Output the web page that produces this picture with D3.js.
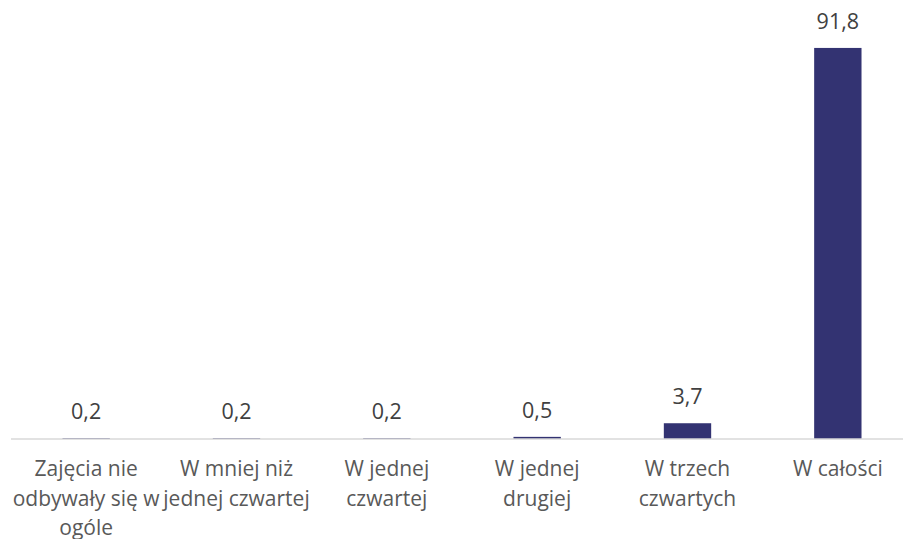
<!DOCTYPE html>
<html>
<head>
<meta charset="utf-8">
<script src="https://cdn.jsdelivr.net/npm/d3@7"></script>
<style>
    body { margin: 0; background: #fff; }
    svg { display: block; font-family: "Open Sans", sans-serif; }
</style>
</head>
<body>
<div id="chart"></div>
<script>
const categories = [
    "Zajęcia nie odbywały się w ogóle",
    "W mniej niż jednej czwartej",
    "W jednej czwartej",
    "W jednej drugiej",
    "W trzech czwartych",
    "W całości"
];
// wrapped lines as they appear under the axis
const categoryLines = [
    ["Zajęcia nie", "odbywały się w", "ogóle"],
    ["W mniej niż", "jednej czwartej"],
    ["W jednej", "czwartej"],
    ["W jednej", "drugiej"],
    ["W trzech", "czwartych"],
    ["W całości"]
];
const values = [0.2, 0.2, 0.2, 0.5, 3.7, 91.8];

const width = 903, height = 539;
const axisY = 439;

const svg = d3.select("#chart").append("svg")
    .attr("width", width)
    .attr("height", height);

const x = d3.scaleBand()
    .domain(categories)
    .range([11, 913])
    .paddingInner(0.685)
    .paddingOuter(0.3425);

const y = d3.scaleLinear()
    .domain([0, 100])
    .range([axisY, 13]);

svg.selectAll(".bar")
    .data(values)
    .enter().append("rect")
    .attr("class", "bar")
    .attr("x", (d, i) => x(categories[i]))
    .attr("y", d => y(d))
    .attr("width", x.bandwidth())
    .attr("height", d => axisY - y(d))
    .attr("fill", "#333372");

// category axis
const xAxisGroup = svg.append("g")
    .attr("transform", `translate(0,${axisY})`)
    .call(d3.axisBottom(x).tickFormat(() => "").tickSize(0));

xAxisGroup.select(".domain")
    .attr("d", `M11,0H${width}`)
    .attr("stroke", "#d9d9d9")
    .attr("stroke-width", 1.5);

categories.forEach((c, i) => {
    const cx = x(c) + x.bandwidth() / 2;
    const t = svg.append("text")
        .attr("x", cx)
        .attr("y", 476)
        .attr("text-anchor", "middle")
        .style("font-size", "21px")
        .style("fill", "#595959");
    categoryLines[i].forEach((line, j) => {
        t.append("tspan")
            .attr("x", cx)
            .attr("dy", j === 0 ? 0 : 29.5)
            .text(line);
    });
});

// value labels
svg.selectAll(".value-label")
    .data(values)
    .enter().append("text")
    .attr("class", "value-label")
    .attr("x", (d, i) => x(categories[i]) + x.bandwidth() / 2)
    .attr("y", d => y(d) - 19)
    .attr("text-anchor", "middle")
    .style("font-size", "21.5px")
    .style("fill", "#404040")
    .text(d => d3.format(".1f")(d).replace(".", ","));
</script>
</body>
</html>
